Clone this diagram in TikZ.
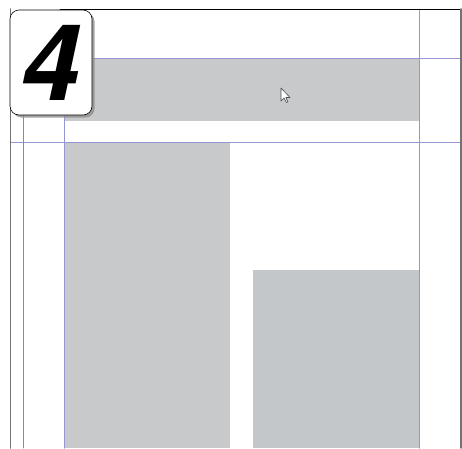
\documentclass[tikz,border=0pt]{standalone}
\usepackage{fontspec}
\newfontfamily\badgefont{TeX Gyre Heros}
\usetikzlibrary{shadows}
\definecolor{blockgray}{RGB}{200,201,203}
\definecolor{blockgraytwo}{RGB}{196,199,202}
\definecolor{guideblue}{RGB}{150,150,212}
\definecolor{pageedge}{RGB}{115,115,118}
\tikzset{
  guide/.style={line width=1pt,draw=guideblue},
  badge/.style={draw=black,line width=0.6pt,fill=white,rounded corners=9pt,
    minimum width=82pt,minimum height=105pt,inner sep=0pt,
    drop shadow={shadow xshift=2.5pt,shadow yshift=-2.5pt,fill=black!45,opacity=0.8},
    font=\badgefont\bfseries\itshape\fontsize{106}{106}\selectfont}
}
\begin{document}
\begin{tikzpicture}[x=1pt,y=-1pt,line cap=round,line join=round]
  \useasboundingbox (0,0) rectangle (462,448);
  % grey frames on the page
  \fill[blockgray] (65,58) rectangle (419,121);
  \fill[blockgray] (65,142) rectangle (230,448);
  \fill[blockgraytwo] (253,270) rectangle (419,448);
  % margin and column guides
  \draw[guide] (92,58) -- (462,58);
  \draw[guide] (10,142) -- (462,142);
  \draw[guide] (64.5,115) -- (64.5,448);
  \draw[guide] (419.5,9) -- (419.5,448);
  \draw[line width=0.8pt,draw=black!45] (23.5,115) -- (23.5,448);
  % page edge
  \draw[line width=0.8pt] (60,9) -- (461,9);
  \draw[line width=1.6pt,draw=pageedge] (10.5,9) -- (10.5,448);
  \draw[line width=1.6pt,draw=pageedge] (460.8,9) -- (460.8,448);
  % step number
  \node[badge] (stepnum) at (51,62.5) {4};
  % mouse pointer
  \filldraw[fill=white,draw=black!70,line width=0.6pt]
    (281,88) -- (281,101) -- (284,98) -- (286.5,102.5) -- (288,101.8)
    -- (285.8,97.5) -- (290,97.5) -- cycle;
\end{tikzpicture}
\end{document}
